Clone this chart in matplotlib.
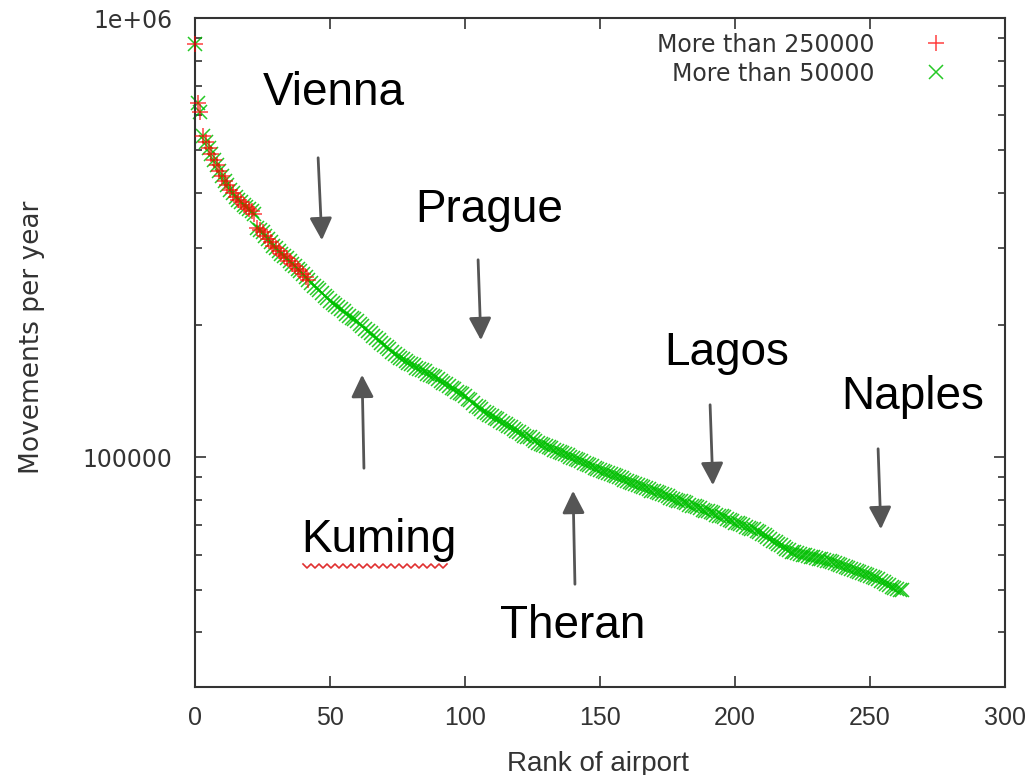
import numpy as np
import matplotlib
matplotlib.use('Agg')
import matplotlib.pyplot as plt
from matplotlib import font_manager
from matplotlib.ticker import LogLocator, NullFormatter, FixedLocator

# Datos: movimientos por año (miles) según el rango del aeropuerto
movimientos_k = [
    873, 640, 612, 540, 522, 505, 490, 474, 462, 449,
    437, 426, 417, 406, 399, 392, 386, 381, 376, 371,
    367, 363, 358, 333, 329, 325, 319, 314, 309, 303,
    299, 295, 291, 287, 284, 280, 276, 272, 268, 265,
    261, 257, 253, 249, 246, 243, 240, 236, 233, 230,
    227, 225, 222, 220, 217, 215, 212, 210, 208, 206,
    204, 201, 199, 196, 194, 192, 189, 187, 185, 182,
    180, 178, 176, 174, 172, 170, 168, 167, 166, 164,
    163, 162, 160, 159, 158, 157, 155, 154, 153, 152,
    151, 149, 148, 147, 145, 144, 143, 141, 140, 139,
    138, 136, 135, 133, 131, 130, 128.5, 127, 126, 125,
    124, 123, 122, 121, 120, 119, 118, 117, 116, 115,
    114, 113, 112, 111.5, 111, 110, 109, 108, 107.5, 106.5,
    106, 105.5, 105, 104, 103.5, 103, 102.5, 101.5, 101, 100,
    99.5, 99, 98.5, 98, 97, 96.5, 96, 95.5, 94.5, 94,
    93.5, 93, 92.5, 92, 91.5, 91, 90.5, 90, 89.5, 89,
    88.5, 88, 87.5, 87, 86.5, 86, 85.5, 85, 84.5, 84,
    84, 83.5, 83, 82.5, 82, 81.5, 81, 80.5, 80, 79.5,
    79.5, 79, 78.5, 78, 77.5, 77.5, 77, 76.5, 76, 75.5,
    75.5, 75, 74.5, 74, 73.5, 73.5, 73, 72.5, 72, 71.5,
    71, 70.8, 70.5, 70, 69.5, 69, 68.8, 68.5, 68, 67.5,
    67, 66.5, 66, 65, 64.5, 64, 63.5, 63, 62.5, 62,
    61.5, 61, 60.8, 60.5, 60.2, 60, 59.8, 59.6, 59.4, 59.2,
    59, 58.8, 58.6, 58.4, 58.2, 58, 57.8, 57.5, 57.2, 57,
    56.7, 56.4, 56.1, 55.8, 55.5, 55.2, 54.9, 54.6, 54.3, 54,
    53.8, 53.5, 53.2, 52.8, 52.4, 52, 51.6, 51.2, 50.8, 50.5,
    50.2, 50, 49.8,
]
movimientos = np.array(movimientos_k) * 1000
rango = np.arange(len(movimientos))

umbral_alto = 250000
x_ticks = [0, 50, 100, 150, 200, 250, 300]
y_ticks = [100000, 1000000]
y_tick_labels = ['100000', '1e+06']

# Ciudades anotadas: (texto, centro del texto, inicio flecha, punta flecha) en píxeles de la referencia
ciudades = [
    ('Vienna', (334, 93), (318, 155), (322, 243)),
    ('Prague', (489, 210), (478, 257), (481, 343)),
    ('Kuming', (379, 540), (364, 471), (362, 372)),
    ('Theran', (573, 626), (575, 587), (573, 488)),
    ('Lagos', (727, 353), (710, 402), (713, 488)),
    ('Naples', (913, 397), (878, 446), (881, 532)),
]

W, H = 1030, 775


def px(x, y):
    return (x / W, 1 - y / H)


nombres = {f.name for f in font_manager.fontManager.ttflist}
fuente_estrecha = 'Liberation Sans Narrow' if 'Liberation Sans Narrow' in nombres else 'Liberation Sans'

gris = '#333333'
fig = plt.figure(figsize=(10.30, 7.75), dpi=100)
ax = fig.add_axes([195 / W, 1 - 687 / H, (1005 - 195) / W, (687 - 18) / H])

ax.plot(rango, movimientos, color='#00c000', marker='x', linestyle='none',
        markersize=10, markeredgewidth=1.1, label='More than 50000', zorder=2,
        clip_on=False, alpha=0.85)
alto = movimientos > umbral_alto
ax.plot(rango[alto], movimientos[alto], color='#ff0000', marker='+', linestyle='none',
        markersize=11, markeredgewidth=1.1, label='More than 250000', zorder=3,
        alpha=0.75, clip_on=False)

ax.set_yscale('log')
ax.set_xlim(0, 300)
ax.set_ylim(30000, 1000000)

ax.xaxis.set_major_locator(FixedLocator(x_ticks))
ax.set_xticklabels([str(t) for t in x_ticks], fontfamily=fuente_estrecha, fontsize=18, color=gris)
ax.yaxis.set_major_locator(FixedLocator(y_ticks))
ax.set_yticklabels(y_tick_labels, fontsize=17, color=gris)
ax.yaxis.set_minor_locator(LogLocator(base=10, subs=np.arange(2, 10)))
ax.yaxis.set_minor_formatter(NullFormatter())

ax.tick_params(which='both', direction='in', top=True, right=True, color=gris, width=1.2)
ax.tick_params(which='major', length=8)
ax.tick_params(which='minor', length=5)
ax.tick_params(axis='x', pad=14)
ax.tick_params(axis='y', pad=16)
for s in ax.spines.values():
    s.set_color(gris)
    s.set_linewidth(1.5)

fig.text(*px(598, 764), 'Rank of airport', ha='center', va='center',
         fontfamily=fuente_estrecha, fontsize=20, color=gris)
fig.text(*px(32, 337), 'Movements per year', ha='center', va='center',
         rotation=90, fontsize=19, color=gris)

handles, labels = ax.get_legend_handles_labels()
ax.legend(handles[::-1], labels[::-1], loc='upper right', frameon=False, markerfirst=False,
          fontsize=17, labelcolor=gris, bbox_to_anchor=(0.97, 1.01), handletextpad=1.6,
          labelspacing=0.22)

for nombre, pos_texto, inicio, punta in ciudades:
    fig.text(*px(*pos_texto), nombre, ha='center', va='center', fontsize=33,
             fontfamily='Liberation Sans', color='black')
    fig.add_artist(matplotlib.patches.FancyArrowPatch(
        px(*inicio), px(*punta), transform=fig.transFigure,
        arrowstyle='-|>', mutation_scale=34, color='#555555', lw=2))

# Subrayado ondulado rojo bajo "Kuming"
xs = np.arange(303, 448, 4)
ys = 566 + np.where(np.arange(len(xs)) % 2 == 0, -2, 2)
fig.add_artist(plt.Line2D(xs / W, 1 - ys / H, color='#e03030', lw=1.2, transform=fig.transFigure))

fig.savefig('out.png', dpi=100)
